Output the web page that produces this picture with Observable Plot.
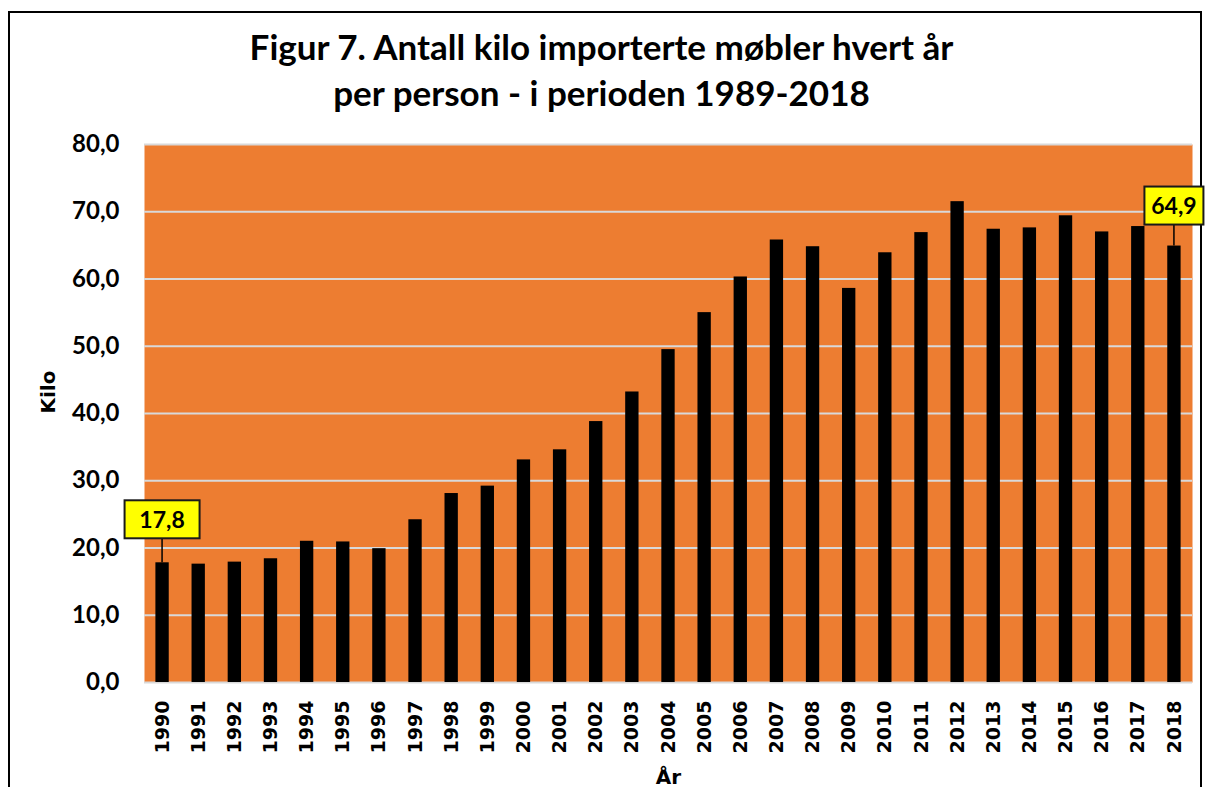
<!DOCTYPE html>
<html><head><meta charset="utf-8">
<script src="https://cdn.jsdelivr.net/npm/d3@7"></script>
<script src="https://cdn.jsdelivr.net/npm/@observablehq/plot@0.6"></script>
<style>
html,body{margin:0;padding:0;background:#fff;width:1208px;height:787px;overflow:hidden;}
#frame{position:absolute;left:8px;top:11px;width:1190px;height:800px;border:2px solid #000;}
.title{position:absolute;left:0;width:1203px;text-align:center;font-family:Lato,"Open Sans",sans-serif;font-weight:bold;font-size:35px;line-height:35px;color:#000;white-space:nowrap;}
#chart{position:absolute;left:0;top:120px;}
</style></head><body>
<div id="frame"></div>
<div class="title" style="top:29px">Figur 7. Antall kilo importerte møbler hvert år</div>
<div class="title" style="top:75px">per person - i perioden 1989-2018</div>
<div id="chart"></div>
<script>
const years = [1990,1991,1992,1993,1994,1995,1996,1997,1998,1999,2000,2001,2002,2003,2004,2005,2006,2007,2008,2009,2010,2011,2012,2013,2014,2015,2016,2017,2018];
const kilo  = [17.8,17.6,17.9,18.4,21.0,20.9,19.9,24.2,28.1,29.2,33.1,34.6,38.8,43.2,49.5,55.0,60.3,65.8,64.8,58.6,63.9,66.9,71.5,67.4,67.6,69.4,67.0,67.8,64.9];
const yTicks = [0,10,20,30,40,50,60,70,80];
const labelYears = [1990, 2018];
const yLabel = "Kilo";
const xLabel = "År";

const data = years.map((y, i) => ({year: y, kilo: kilo[i]}));
const fmt = v => v.toFixed(1).replace(".", ",");

// callout box styling (pixels)
const calloutStyle = {1990: {w: 75, h: 38, gap: 24}, 2018: {w: 59, h: 38, gap: 21}};

function callouts(index, scales) {
  const x = scales.x, y = scales.y;
  const bw = typeof x.bandwidth === "function" ? x.bandwidth() : 0;
  const g = d3.create("svg:g");
  for (const yr of labelYears) {
    const v = kilo[years.indexOf(yr)];
    const st = calloutStyle[yr];
    const cx = x(yr) + bw / 2;
    const top = y(v);
    const boxBottom = top - st.gap;
    g.append("line").attr("x1", cx).attr("x2", cx).attr("y1", top).attr("y2", boxBottom)
      .attr("stroke", "#000").attr("stroke-width", 1.5);
    g.append("rect").attr("x", cx - st.w / 2).attr("y", boxBottom - st.h)
      .attr("width", st.w).attr("height", st.h)
      .attr("fill", "#ffff00").attr("stroke", "#1a1a1a").attr("stroke-width", 2);
    g.append("text").attr("x", cx).attr("y", boxBottom - st.h / 2)
      .attr("text-anchor", "middle").attr("dy", "0.36em")
      .attr("font-family", "Lato, sans-serif").attr("font-weight", "bold").attr("font-size", 23)
      .attr("fill", "#000").text(fmt(v));
  }
  return g.node();
}

const chart = Plot.plot({
  width: 1208,
  height: 667,
  marginTop: 24,
  marginLeft: 144,
  marginRight: 16,
  marginBottom: 105,
  style: {background: "transparent", overflow: "visible"},
  x: {type: "band", domain: years, paddingInner: 0, paddingOuter: 0, round: false, label: null},
  y: {domain: [0, 80], label: null},
  marks: [
    Plot.frame({fill: "#ED7D31", stroke: "none"}),
    Plot.ruleY(yTicks, {stroke: "#d9d9d9", strokeWidth: 2}),
    Plot.barY(data, {x: "year", y: "kilo", fill: "#000", insetLeft: 11.4, insetRight: 11.4}),
    Plot.axisY({ticks: yTicks, tickSize: 0, tickPadding: 25, tickFormat: fmt, label: null,
      fontFamily: "Lato, sans-serif", fontWeight: "bold", fontSize: 24, fill: "#000"}),
    Plot.axisX({tickSize: 0, tickPadding: 18, tickRotate: -90, label: null, tickFormat: d => String(d),
      fontFamily: "DejaVu Sans", fontWeight: "bold", fontSize: 19, fill: "#000"}),
    Plot.text([yLabel], {frameAnchor: "left", text: d => d, rotate: -90, dx: -96,
      fontFamily: "DejaVu Sans", fontWeight: "bold", fontSize: 20, fill: "#000"}),
    Plot.text([xLabel], {frameAnchor: "bottom", text: d => d, lineAnchor: "bottom", dy: 101,
      fontFamily: "DejaVu Sans", fontWeight: "bold", fontSize: 20, fill: "#000"}),
    callouts
  ]
});
document.getElementById("chart").appendChild(chart);
</script>
</body></html>
